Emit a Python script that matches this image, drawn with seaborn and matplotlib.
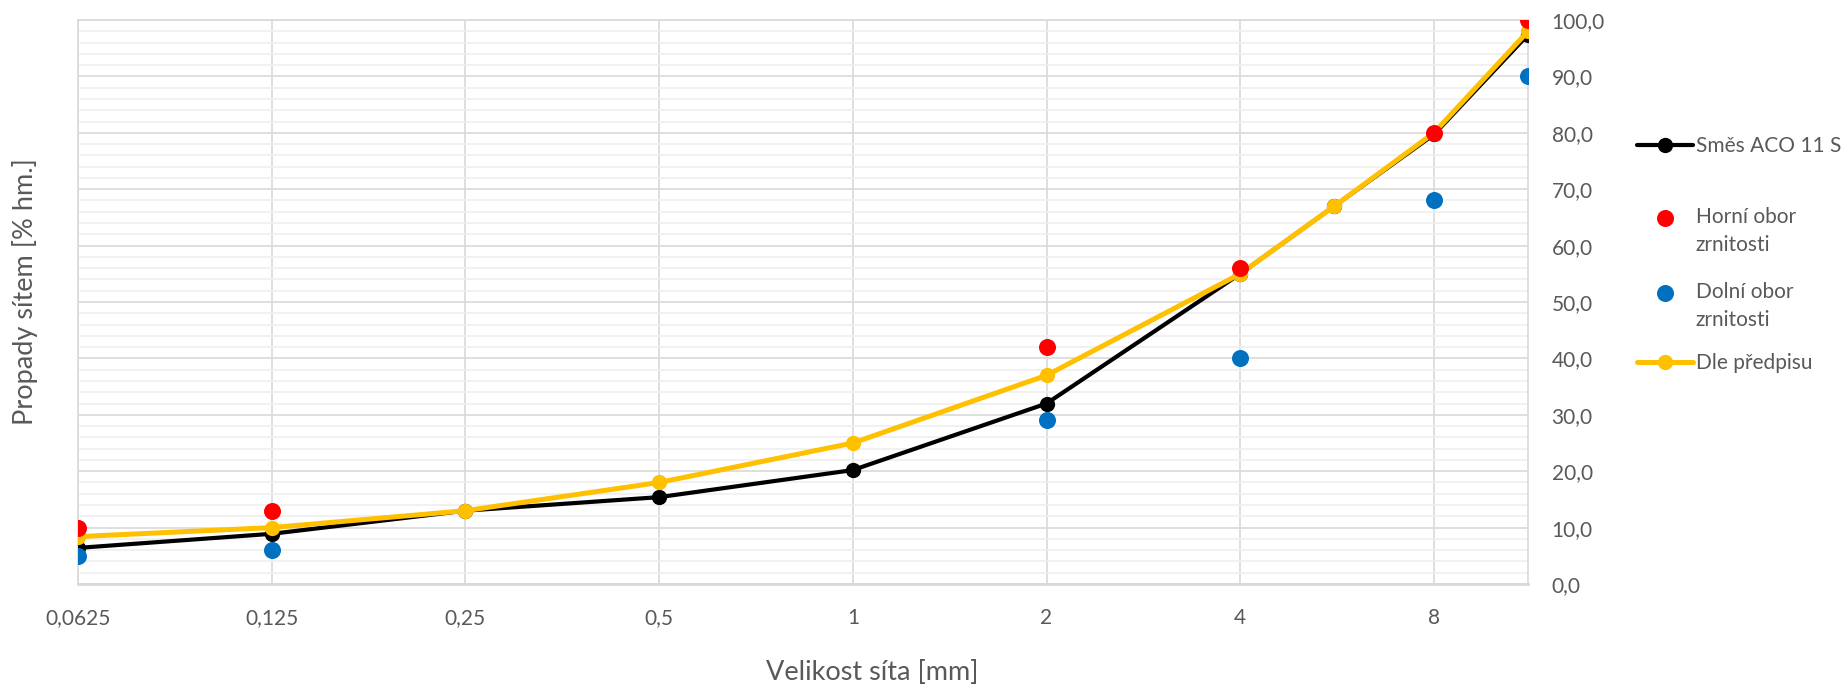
import numpy as np
import pandas as pd
import matplotlib
matplotlib.use("Agg")
import matplotlib.pyplot as plt
from matplotlib.ticker import FixedLocator, MultipleLocator, FuncFormatter, NullFormatter
from matplotlib.lines import Line2D
import seaborn as sns

# Sieve sizes [mm] and passing percentages
sieves = [0.0625, 0.125, 0.25, 0.5, 1, 2, 4, 5.6, 8, 11.2]
smes_aco = [6.4, 8.9, 13.0, 15.4, 20.2, 32.0, 55.0, 67.0, 79.7, 97.4]
dle_predpisu = [8.4, 10.0, 13.0, 18.0, 25.0, 37.0, 55.0, 67.0, 80.0, 98.0]

upper_sieves = [0.0625, 0.125, 2, 4, 8, 11.2]
horni_obor = [10, 13, 42, 56, 80, 100]
lower_sieves = [0.0625, 0.125, 2, 4, 8, 11.2]
dolni_obor = [5, 6, 29, 40, 68, 90]

x_tick_values = [0.0625, 0.125, 0.25, 0.5, 1, 2, 4, 8]
x_tick_labels = ["0,0625", "0,125", "0,25", "0,5", "1", "2", "4", "8"]

sns.set_theme(style="white")
plt.rcParams["font.family"] = ["Lato", "DejaVu Sans"]
text_color = "#595959"
grid_major = "#D9D9D9"
grid_minor = "#EFEFEF"

fig = plt.figure(figsize=(18.48, 6.88), dpi=100)
ax = fig.add_axes([78 / 1848, 1 - 584 / 688, 1450 / 1848, 564 / 688])

df_mix = pd.DataFrame({"x": sieves, "y": smes_aco})
df_spec = pd.DataFrame({"x": sieves, "y": dle_predpisu})
df_up = pd.DataFrame({"x": upper_sieves, "y": horni_obor})
df_lo = pd.DataFrame({"x": lower_sieves, "y": dolni_obor})

sns.lineplot(data=df_mix, x="x", y="y", ax=ax, color="black", linewidth=3.0,
             marker="o", markersize=11, markeredgewidth=0, label="Směs ACO 11 S",
             zorder=3)
sns.lineplot(data=df_spec, x="x", y="y", ax=ax, color="#FFC000", linewidth=3.6,
             marker="o", markersize=11, markeredgewidth=0, label="Dle předpisu",
             zorder=4)
sns.scatterplot(data=df_up, x="x", y="y", ax=ax, color="#FF0000", s=150,
                linewidth=0, label="Horní obor zrnitosti", zorder=5)
sns.scatterplot(data=df_lo, x="x", y="y", ax=ax, color="#0070C0", s=150,
                linewidth=0, label="Dolní obor zrnitosti", zorder=5)

ax.set_xscale("log", base=2)
ax.set_xlim(0.0625, 11.2)
ax.set_ylim(0, 100)

ax.xaxis.set_major_locator(FixedLocator(x_tick_values))
ax.xaxis.set_major_formatter(FuncFormatter(lambda v, p: x_tick_labels[x_tick_values.index(v)] if v in x_tick_values else ""))
ax.xaxis.set_minor_locator(FixedLocator([]))
ax.xaxis.set_minor_formatter(NullFormatter())

ax.yaxis.set_major_locator(MultipleLocator(10))
ax.yaxis.set_minor_locator(MultipleLocator(2))
ax.yaxis.set_major_formatter(FuncFormatter(lambda v, p: f"{v:.1f}".replace(".", ",")))
ax.yaxis.tick_right()

ax.tick_params(axis="both", which="both", length=0, labelsize=15, labelcolor=text_color)
ax.tick_params(axis="x", pad=17)
ax.tick_params(axis="y", pad=17)

ax.grid(which="major", axis="both", color=grid_major, linewidth=1.2, zorder=0)
ax.grid(which="minor", axis="y", color=grid_minor, linewidth=1.2, zorder=0)
ax.set_axisbelow(True)
for side in ["left", "right", "top"]:
    ax.spines[side].set_color(grid_major)
    ax.spines[side].set_linewidth(1.2)
ax.spines["bottom"].set_color(grid_major)
ax.spines["bottom"].set_linewidth(2.0)

ax.set_xlabel("")
ax.set_ylabel("")
fig.text(872 / 1848, 1 - 672 / 688, "Velikost síta [mm]", ha="center", va="center",
         fontsize=19.5, color=text_color)
fig.text(25 / 1848, 1 - 292 / 688, "Propady sítem [% hm.]", ha="center", va="center",
         rotation=90, fontsize=19.5, color=text_color)

# Legend: one block per series, stacked at the right
handles, labels = ax.get_legend_handles_labels()
hmap = dict(zip(labels, handles))
if ax.get_legend() is not None:
    ax.get_legend().remove()
blank = Line2D([], [], linestyle="none", marker=None)

legend_kw = dict(frameon=False, fontsize=15, labelcolor=text_color, borderpad=0,
                 borderaxespad=0, handlelength=2.7, handletextpad=0.12,
                 loc="center left", bbox_transform=fig.transFigure,
                 labelspacing=0.35, markerscale=1.0)
x_leg = 1637 / 1848
blocks = [
    ([hmap["Směs ACO 11 S"]], ["Směs ACO 11 S"], 146),
    ([hmap["Horní obor zrnitosti"], blank], ["Horní obor", "zrnitosti"], 231),
    ([hmap["Dolní obor zrnitosti"], blank], ["Dolní obor", "zrnitosti"], 306),
    ([hmap["Dle předpisu"]], ["Dle předpisu"], 363),
]
for hs, ls, ypx in blocks:
    fig.legend(hs, ls, bbox_to_anchor=(x_leg, 1 - ypx / 688), **legend_kw)

fig.savefig("out.png", dpi=100)
